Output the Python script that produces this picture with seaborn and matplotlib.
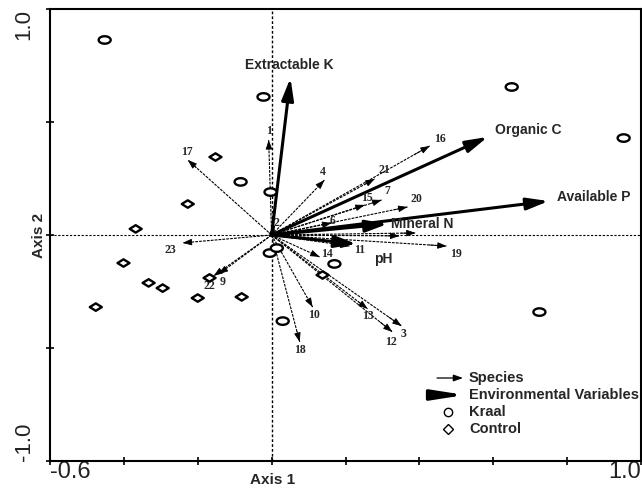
import numpy as np
import pandas as pd
import matplotlib
matplotlib.use("Agg")
import matplotlib.pyplot as plt
import seaborn as sns
from matplotlib.path import Path

# ---------------- data ----------------
site_group = ["Kraal"] * 11 + ["Control"] * 11
site_x = [-0.452, -0.022, 0.650, 0.953, -0.084, -0.003, -0.005, 0.030, 0.170, 0.725, 0.014,
          -0.152, -0.227, -0.368, -0.401, -0.333, -0.295, -0.476, -0.200, -0.168, -0.081, 0.138]
site_y = [0.863, 0.611, 0.655, 0.429, 0.235, 0.190, -0.080, -0.381, -0.128, -0.341, -0.058,
          0.345, 0.137, 0.027, -0.124, -0.212, -0.235, -0.319, -0.279, -0.190, -0.274, -0.177]

species = [str(i) for i in range(1, 24)]
species_x = [-0.008, 0.008, 0.352, 0.143, 0.346, 0.162, 0.298, 0.390, -0.143, 0.111, 0.211, 0.327,
             0.260, 0.130, 0.252, 0.428, -0.227, 0.076, 0.474, 0.368, 0.279, -0.157, -0.241]
species_y = [0.420, 0.040, -0.403, 0.243, -0.004, 0.053, 0.155, 0.009, -0.173, -0.319, -0.049, -0.429,
             -0.327, -0.097, 0.133, 0.394, 0.332, -0.473, -0.049, 0.124, 0.248, -0.181, -0.035]

env_names = ["Extractable K", "Organic C", "Available P", "Mineral N", "pH"]
env_x = [0.051, 0.585, 0.750, 0.314, 0.230]
env_y = [0.695, 0.434, 0.150, 0.049, -0.040]

x_ticks = [-0.6, -0.4, -0.2, 0.0, 0.2, 0.4, 0.6, 0.8, 1.0]
x_tick_labels = ["-0.6", "", "", "", "", "", "", "", "1.0"]
y_ticks = [-1.0, -0.5, 0.0, 0.5, 1.0]
y_tick_labels = ["-1.0", "", "", "", "1.0"]

# ---------------- layout / style ----------------
hidden_species = {"5", "8"}
# label offsets in pixels (dx, dy up)
sp_off = {"1": (0, 9), "2": (2, 3), "3": (2, -8), "4": (-2, 8), "6": (1, 2), "7": (6, 9),
          "9": (4, -8), "10": (1, -8), "11": (10, -4), "12": (-1, -10), "13": (0, -7),
          "14": (7, 3), "15": (2, 7), "16": (10, 7), "17": (-1, 8), "18": (0, -8),
          "19": (9, -8), "20": (9, 8), "21": (10, 9), "22": (-4, -10), "23": (-12, -7)}
env_off = {"Extractable K": (-1, 13, "center"), "Organic C": (7, 7, "left"),
           "Available P": (8, 4, "left"), "Mineral N": (3, 0, "left"), "pH": (17, -15, "left")}

sns.set_style("white")
plt.rcParams["font.family"] = ["Liberation Sans", "DejaVu Sans"]

W, H = 642, 488
fig = plt.figure(figsize=(W / 100, H / 100), dpi=100)
ax = fig.add_axes([50 / W, 1 - 461 / H, 591 / W, 452 / H])
ax.set_xlim(-0.6, 1.0)
ax.set_ylim(-1.0, 1.0)

# zero lines
ax.axhline(0, color="black", lw=0.8, ls=(0, (2, 1.5)), zorder=1)
ax.axvline(0, color="black", lw=1.0, ls=(0, (2, 1.5)), zorder=1)

PX = 0.72  # points per pixel

# species arrows
for name, x, y in zip(species, species_x, species_y):
    ax.plot([0, x], [0, y], color="black", lw=0.8, ls=(0, (2.5, 1)), zorder=2)
    ax.annotate("", xy=(x, y), xytext=(0.9 * x, 0.9 * y),
                arrowprops=dict(arrowstyle="-|>,head_length=0.7,head_width=0.25",
                                mutation_scale=8, lw=0.6, color="black",
                                shrinkA=0, shrinkB=0), zorder=2)
    if name not in hidden_species:
        dx, dy = sp_off[name]
        ax.annotate(name, xy=(x, y), xytext=(dx * PX, dy * PX), textcoords="offset points",
                    ha="center", va="center", fontsize=8.5, fontweight="bold",
                    family=["Liberation Serif", "DejaVu Serif"], zorder=4)

# environmental arrows
for name, x, y in zip(env_names, env_x, env_y):
    ax.annotate("", xy=(x, y), xytext=(0, 0),
                arrowprops=dict(arrowstyle="-|>,head_length=1.1,head_width=0.3",
                                mutation_scale=12, lw=2.2, color="black",
                                shrinkA=0, shrinkB=0), zorder=3)
    dx, dy, ha = env_off[name]
    ax.annotate(name, xy=(x, y), xytext=(dx * PX, dy * PX), textcoords="offset points",
                ha=ha, va="center", fontsize=10, fontweight="bold", zorder=4)

# sites
th = np.linspace(0, 2 * np.pi, 41)
ell_verts = np.column_stack([np.cos(th), 0.62 * np.sin(th)])
ell_codes = [Path.MOVETO] + [Path.LINETO] * (len(th) - 2) + [Path.CLOSEPOLY]
ellipse = Path(ell_verts, ell_codes)
diamond = Path([(-1, 0), (0, 0.62), (1, 0), (0, -0.62), (-1, 0)],
               [Path.MOVETO, Path.LINETO, Path.LINETO, Path.LINETO, Path.CLOSEPOLY])

df = pd.DataFrame({"x": site_x, "y": site_y, "group": site_group})
sns.scatterplot(data=df, x="x", y="y", style="group",
                markers={"Kraal": ellipse, "Control": diamond},
                s=75, color="white", edgecolor="black", linewidth=1.7,
                legend=False, ax=ax, zorder=5)

# axes styling
for sp in ax.spines.values():
    sp.set_color("black")
    sp.set_linewidth(1.5)
ax.set_xticks(x_ticks, x_tick_labels)
ax.set_yticks(y_ticks, y_tick_labels)
ax.tick_params(axis="both", direction="inout", length=6, width=1.2, color="black",
               bottom=True, left=True, top=False, right=False)
ax.tick_params(axis="x", labelsize=17, pad=-3, labelcolor="#222222")
ax.tick_params(axis="y", labelsize=16, pad=8, labelcolor="#222222")
xl = ax.get_xticklabels()
xl[0].set_ha("left")
xl[-1].set_ha("right")
for t in ax.get_yticklabels():
    t.set_rotation(90)
yl = ax.get_yticklabels()
yl[0].set_va("bottom")
yl[-1].set_va("top")

ax.set_xlabel("Axis 1", fontsize=11, fontweight="bold")
ax.xaxis.set_label_coords((273 - 50) / 591, -0.027)
ax.set_ylabel("")
ax.text(-0.019, 0.5, "Axis 2", transform=ax.transAxes, rotation=90,
        ha="center", va="center", fontsize=11, fontweight="bold")

# legend (manual)
def axf(px, py):
    return ((px - 50) / 591, (461 - py) / 452)

ax.annotate("", xy=axf(463, 378), xytext=axf(437, 378), xycoords="axes fraction",
            textcoords="axes fraction",
            arrowprops=dict(arrowstyle="-|>,head_length=0.7,head_width=0.25",
                            mutation_scale=8, lw=0.9, color="black", shrinkA=0, shrinkB=0))
ax.annotate("", xy=axf(465, 395), xytext=axf(437, 395), xycoords="axes fraction",
            textcoords="axes fraction",
            arrowprops=dict(arrowstyle="-|>,head_length=1.6,head_width=0.25",
                            mutation_scale=12, lw=2.4, color="black", shrinkA=0, shrinkB=0))
ax.plot(*axf(448, 412), marker="o", ms=6, mfc="white", mec="black", mew=1.0,
        transform=ax.transAxes, clip_on=False)
ax.plot(*axf(448, 429), marker="D", ms=5, mfc="white", mec="black", mew=1.0,
        transform=ax.transAxes, clip_on=False)
for lab, py in zip(["Species", "Environmental Variables", "Kraal", "Control"],
                   [378, 395, 412, 429]):
    ax.text(*axf(469, py), lab, transform=ax.transAxes, ha="left", va="center",
            fontsize=10.5, fontweight="bold")

fig.savefig("out.png", dpi=100)
